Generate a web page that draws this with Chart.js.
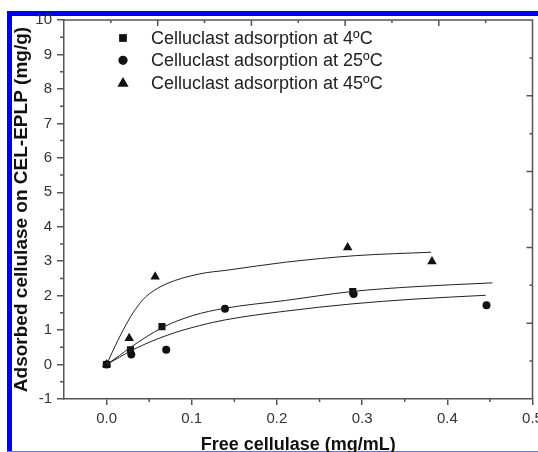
<!DOCTYPE html>
<html>
<head>
<meta charset="utf-8">
<script src="https://cdn.jsdelivr.net/npm/chart.js@4.4.1/dist/chart.umd.min.js"></script>
<style>
  body { margin: 0; background: #fff; }
  #wrap { width: 538px; height: 452px; }
</style>
</head>
<body>
<div id="wrap"><canvas id="adsChart" width="538" height="452"></canvas></div>
<script>
// measured points
var x4 = [0, 0.028, 0.065, 0.289];
var y4 = [0, 0.43, 1.10, 2.12];
var x25 = [0, 0.029, 0.070, 0.139, 0.290, 0.446];
var y25 = [0, 0.29, 0.43, 1.62, 2.05, 1.72];
var x45 = [0, 0.0265, 0.057, 0.283, 0.382];
var y45 = [0, 0.76, 2.55, 3.40, 2.99];

// fitted curves
var fitTopX = [0, 0.0132, 0.0249, 0.031, 0.0425, 0.050, 0.070, 0.109, 0.142, 0.210, 0.292, 0.381];
var fitTopY = [0, 0.70, 1.25, 1.50, 1.88, 2.05, 2.34, 2.63, 2.74, 2.97, 3.16, 3.26];
var fitMidX = [0, 0.015, 0.027, 0.066, 0.101, 0.138, 0.210, 0.288, 0.362, 0.453];
var fitMidY = [0, 0.26, 0.48, 1.08, 1.42, 1.63, 1.86, 2.12, 2.26, 2.37];
var fitLowX = [0, 0.015, 0.031, 0.070, 0.109, 0.140, 0.210, 0.288, 0.362, 0.445];
var fitLowY = [0, 0.21, 0.43, 0.84, 1.13, 1.30, 1.55, 1.76, 1.90, 2.01];

var legendLabels = ['Celluclast adsorption at 4ºC', 'Celluclast adsorption at 25ºC', 'Celluclast adsorption at 45ºC'];

var xTicks = [0, 0.1, 0.2, 0.3, 0.4, 0.5];
var xMinor = [0.05, 0.15, 0.25, 0.35, 0.45];
var yTicks = [-1, 0, 1, 2, 3, 4, 5, 6, 7, 8, 9, 10];
var yMinor = [-0.5, 0.5, 1.5, 2.5, 3.5, 4.5, 5.5, 6.5, 7.5, 8.5, 9.5];
var frameTicks = [1, 2, 3, 4, 5, 6, 7, 8, 9];

function pts(xs, ys) {
    return xs.map(function (v, i) { return { x: v, y: ys[i] }; });
}

var FONT = 'Arial, "Liberation Sans", sans-serif';
var INK = '#111';
var AXIS = '#555';

function markerPath(ctx, style, x, y, r) {
    ctx.beginPath();
    if (style === 'rect') {
        var s = Math.SQRT1_2 * r;
        ctx.rect(x - s, y - s, 2 * s, 2 * s);
    } else if (style === 'triangle') {
        ctx.moveTo(x, y - r);
        ctx.lineTo(x + r * 0.866, y + r * 0.5);
        ctx.lineTo(x - r * 0.866, y + r * 0.5);
        ctx.closePath();
    } else {
        ctx.arc(x, y, r, 0, Math.PI * 2);
    }
    ctx.fill();
}

var pageFrame = {
    id: 'pageFrame',
    beforeDraw: function (chart) {
        var c = chart.ctx;
        c.save();
        c.fillStyle = '#fff';
        c.fillRect(0, 0, chart.width, chart.height);
        c.fillStyle = '#0000f0';
        c.fillRect(7, 11, 5, chart.height - 11);
        c.fillRect(7, 11, chart.width - 7, 5);
        c.fillStyle = '#6c6cff';
        c.fillRect(7, 451, chart.width - 7, 1);
        c.restore();
    }
};

var originAxes = {
    id: 'originAxes',
    afterDraw: function (chart) {
        var c = chart.ctx, a = chart.chartArea;
        var sx = chart.scales.x, sy = chart.scales.y, st = chart.scales.x2, sr = chart.scales.y2;
        c.save();
        c.strokeStyle = AXIS;
        c.lineWidth = 1.5;
        c.beginPath();
        c.moveTo(a.left, a.top); c.lineTo(a.right, a.top); c.lineTo(a.right, a.bottom);
        c.stroke();
        c.beginPath();
        xMinor.forEach(function (v) {
            var px = sx.getPixelForValue(v);
            c.moveTo(px, a.bottom); c.lineTo(px, a.bottom + 3);
        });
        yMinor.forEach(function (v) {
            var py = sy.getPixelForValue(v);
            c.moveTo(a.left, py); c.lineTo(a.left - 4, py);
        });
        frameTicks.forEach(function (v) {
            var len = v % 2 === 0 ? 6 : 3;
            var px = st.getPixelForValue(v);
            c.moveTo(px, a.top); c.lineTo(px, a.top + len);
            var py = sr.getPixelForValue(v);
            c.moveTo(a.right, py); c.lineTo(a.right - len, py);
        });
        c.stroke();
        c.restore();
    }
};

var innerLegend = {
    id: 'innerLegend',
    afterDatasetsDraw: function (chart) {
        var c = chart.ctx, a = chart.chartArea;
        var styles = ['rect', 'circle', 'triangle'];
        var sizes = [5.5, 4.6, 6.5];
        c.save();
        c.font = '18px ' + FONT;
        c.textBaseline = 'middle';
        legendLabels.forEach(function (txt, i) {
            var y = a.top + 18 + i * 22.3;
            c.fillStyle = INK;
            markerPath(c, styles[i], a.left + 59, y + (i === 2 ? 1 : 0), sizes[i]);
            c.fillStyle = '#222';
            c.fillText(txt, a.left + 87, y + 1);
        });
        c.restore();
    }
};

var fitStyle = { showLine: true, pointRadius: 0, borderColor: '#222', borderWidth: 1, fill: false, cubicInterpolationMode: 'monotone' };

var ctx = document.getElementById('adsChart').getContext('2d');
var adsChart = new Chart(ctx, {
    type: 'scatter',
    data: {
        datasets: [
            Object.assign({ label: 'fit 45', data: pts(fitTopX, fitTopY) }, fitStyle),
            Object.assign({ label: 'fit 4', data: pts(fitMidX, fitMidY) }, fitStyle),
            Object.assign({ label: 'fit 25', data: pts(fitLowX, fitLowY) }, fitStyle),
            { label: legendLabels[0], data: pts(x4, y4), pointStyle: 'rect', pointRadius: 5, backgroundColor: INK, borderColor: INK, borderWidth: 0 },
            { label: legendLabels[1], data: pts(x25, y25), pointStyle: 'circle', pointRadius: 4, backgroundColor: INK, borderColor: INK, borderWidth: 0 },
            { label: legendLabels[2], data: pts(x45, y45), pointStyle: 'triangle', pointRadius: 5.5, backgroundColor: INK, borderColor: INK, borderWidth: 0 }
        ]
    },
    options: {
        responsive: false,
        animation: false,
        layout: { padding: { left: 0, top: 20, right: 4, bottom: 0 } },
        plugins: { legend: { display: false }, tooltip: { enabled: false } },
        scales: {
            x: {
                type: 'linear',
                min: -0.05,
                max: 0.5,
                afterBuildTicks: function (s) { s.ticks = xTicks.map(function (v) { return { value: v }; }); },
                afterFit: function (s) { s.height = 53; s.paddingLeft = 0; s.paddingRight = 0; },
                ticks: {
                    color: '#333',
                    padding: 5,
                    font: { family: FONT, size: 15 },
                    callback: function (v) { return Number(v).toFixed(1); }
                },
                grid: { drawOnChartArea: false, tickLength: 6, color: AXIS, lineWidth: 1.5 },
                border: { color: AXIS, width: 1.5 },
                title: {
                    display: true,
                    text: 'Free cellulase (mg/mL)',
                    color: INK,
                    font: { family: FONT, size: 18, weight: 'bold' },
                    padding: { top: 0, bottom: -4 }
                }
            },
            y: {
                type: 'linear',
                min: -1,
                max: 10,
                afterBuildTicks: function (s) { s.ticks = yTicks.map(function (v) { return { value: v }; }); },
                afterFit: function (s) { s.width = 64; s.paddingTop = 0; s.paddingBottom = 0; },
                ticks: {
                    color: '#333',
                    padding: 5,
                    font: { family: FONT, size: 15 }
                },
                grid: { drawOnChartArea: false, tickLength: 7, color: AXIS, lineWidth: 1.5 },
                border: { color: AXIS, width: 1.5 },
                title: {
                    display: true,
                    text: 'Adsorbed cellulase on CEL-EPLP (mg/g)',
                    color: INK,
                    font: { family: FONT, size: 19, weight: 'bold' },
                    padding: { top: 10, bottom: 0 }
                }
            },
            x2: { type: 'linear', position: 'top', min: 0, max: 10, display: false },
            y2: { type: 'linear', position: 'right', min: 0, max: 10, display: false }
        }
    },
    plugins: [pageFrame, originAxes, innerLegend]
});
</script>
</body>
</html>
